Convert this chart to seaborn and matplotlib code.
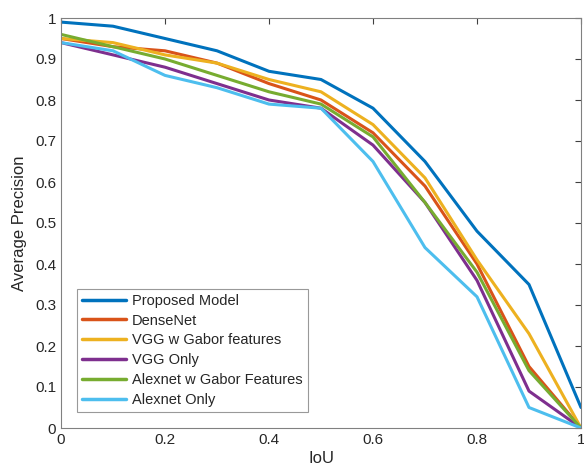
import matplotlib
matplotlib.use("Agg")
import matplotlib.pyplot as plt
import seaborn as sns
import pandas as pd

iou = [0.0, 0.1, 0.2, 0.3, 0.4, 0.5, 0.6, 0.7, 0.8, 0.9, 1.0]
proposed = [0.99, 0.98, 0.95, 0.92, 0.87, 0.85, 0.78, 0.65, 0.48, 0.35, 0.05]
densenet = [0.95, 0.93, 0.92, 0.89, 0.84, 0.80, 0.72, 0.59, 0.40, 0.15, 0.0]
vgg_gabor = [0.95, 0.94, 0.91, 0.89, 0.85, 0.82, 0.74, 0.61, 0.41, 0.23, 0.0]
vgg_only = [0.94, 0.91, 0.88, 0.84, 0.80, 0.78, 0.69, 0.55, 0.36, 0.09, 0.0]
alex_gabor = [0.96, 0.93, 0.90, 0.86, 0.82, 0.79, 0.71, 0.55, 0.38, 0.14, 0.0]
alex_only = [0.94, 0.92, 0.86, 0.83, 0.79, 0.78, 0.65, 0.44, 0.32, 0.05, 0.0]

names = ["Proposed Model", "DenseNet", "VGG w Gabor features", "VGG Only",
         "Alexnet w Gabor Features", "Alexnet Only"]
series = [proposed, densenet, vgg_gabor, vgg_only, alex_gabor, alex_only]
colors = ["#0072BD", "#D95319", "#EDB120", "#7E2F8E", "#77AC30", "#4DBEEE"]

rows = []
for n, s in zip(names, series):
    for x, y in zip(iou, s):
        rows.append({"IoU": x, "AP": y, "Model": n})
df = pd.DataFrame(rows)

sns.set_style("white")
plt.rcParams["font.family"] = ["Liberation Sans", "DejaVu Sans"]

fig = plt.figure(figsize=(5.84, 4.76), dpi=100)
ax = fig.add_axes([61 / 584, 1 - 428 / 476, 520 / 584, 410 / 476])
sns.lineplot(data=df, x="IoU", y="AP", hue="Model", hue_order=names,
             palette=colors, linewidth=2.2, ax=ax)

ax.set_xlim(0, 1)
ax.set_ylim(0, 1)
ax.set_xticks([0, 0.2, 0.4, 0.6, 0.8, 1])
ax.set_xticklabels(["0", "0.2", "0.4", "0.6", "0.8", "1"])
ax.set_yticks([i / 10 for i in range(11)])
ax.set_yticklabels(["0"] + [f"{i/10:g}" for i in range(1, 10)] + ["1"])
ax.tick_params(direction="in", length=4, width=0.8, colors="#404040",
               labelsize=11, top=True, right=True, labelcolor="#262626")
for sp in ax.spines.values():
    sp.set_color("#808080")
    sp.set_linewidth(0.8)
ax.set_xlabel("IoU", fontsize=12, color="#262626", labelpad=3)
ax.set_ylabel("Average Precision", fontsize=12, color="#262626", labelpad=6)

leg = ax.legend(loc="lower left", bbox_to_anchor=(0.031, 0.039), borderaxespad=0,
                fontsize=10.5, frameon=True, fancybox=False, borderpad=0.35,
                labelspacing=0.4, handlelength=3.0, handletextpad=0.4)
leg.get_frame().set_edgecolor("#808080")
leg.get_frame().set_linewidth(0.8)
for line in leg.get_lines():
    line.set_linewidth(2.5)

fig.savefig("out.png", dpi=100)
